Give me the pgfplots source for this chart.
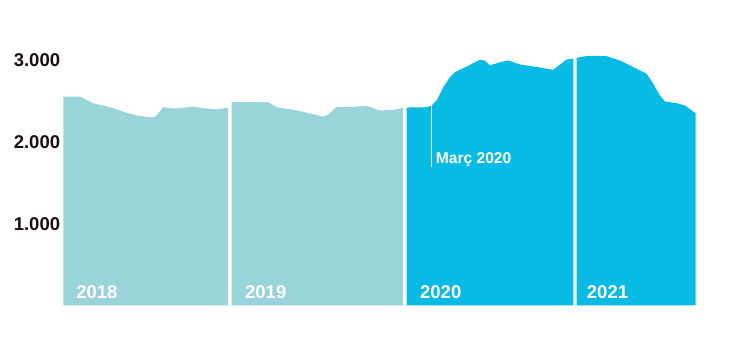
\documentclass[border=0pt]{standalone}
\usepackage{pgfplots}
\pgfplotsset{compat=1.18}
\usepackage{pgfplotstable}
\usepackage{fontspec}
\setmainfont{Liberation Sans}
\definecolor{lightteal}{RGB}{153,212,218}
\definecolor{brightcyan}{RGB}{8,187,228}
\definecolor{labeldark}{RGB}{25,15,15}

\pgfplotstableread{
m v
0 2558
1.18 2558
2.10 2476
3.30 2427
4.47 2359
5.18 2326
6.12 2305
6.47 2307
7.06 2427
7.74 2411
8.24 2415
9.15 2436
9.86 2415
10.85 2399
11.53 2420
11.64 2424
}\yearA
\pgfplotstableread{
m v
11.88 2488
14.47 2488
15.06 2427
16.23 2395
16.70 2378
18.35 2313
18.59 2326
19.29 2427
20.23 2427
21.41 2444
22.35 2387
23.29 2395
23.99 2420
}\yearB
\pgfplotstableread{
m v
24.23 2423
25.65 2427
26.00 2448
26.35 2509
26.82 2672
27.29 2794
27.64 2856
28.47 2925
29.41 3007
29.77 2996
30.11 2938
30.82 2978
31.41 2999
32.23 2950
33.17 2925
34.58 2885
35.05 2950
35.53 3011
35.99 3023
}\yearC
\pgfplotstableread{
m v
36.23 3032
36.80 3050
37.40 3056
38.35 3051
39.29 2999
40.23 2917
41.17 2836
41.64 2714
41.90 2630
42.11 2570
42.46 2497
43.29 2476
43.87 2448
44.35 2387
44.63 2354
}\yearD

\begin{document}
\begin{tikzpicture}
\path[use as bounding box] (0,0) rectangle (729bp,353bp);
\begin{axis}[
  at={(63.3bp,47.5bp)}, anchor=south west,
  scale only axis,
  width=632.4bp, height=261.44bp,
  xmin=0, xmax=44.63,
  ymin=0, ymax=3200,
  clip=false,
  axis line style={draw=none},
  major tick length=0pt,
  xtick=\empty,
  ytick={1000,2000,3000},
  yticklabels={1.000,2.000,3.000},
  yticklabel style={anchor=east, inner sep=0pt, xshift=-3bp,
    font=\fontsize{18.5bp}{20bp}\selectfont\bfseries, text=labeldark},
]
\addplot[fill=lightteal, draw=none] table[x=m,y=v] {\yearA} \closedcycle;
\addplot[fill=lightteal, draw=none] table[x=m,y=v] {\yearB} \closedcycle;
\addplot[fill=brightcyan, draw=none] table[x=m,y=v] {\yearC} \closedcycle;
\addplot[fill=brightcyan, draw=none] table[x=m,y=v] {\yearD} \closedcycle;
\addplot[white, line width=1.3bp] coordinates {(26.0,1690) (26.0,2450)};
\node[anchor=base west, inner sep=0pt, text=white, font=\fontsize{15.6bp}{17bp}\selectfont\bfseries] at (axis cs:26.28,1744) {Març 2020};
\foreach \xx/\yy in {0.9/2018, 12.82/2019, 25.17/2020, 36.94/2021}{
  \edef\tmp{\noexpand\node[anchor=base west, inner sep=0pt, text=white, font=\noexpand\fontsize{18.5bp}{20bp}\noexpand\selectfont\noexpand\bfseries] at (axis cs:\xx,88) {\yy};}
  \tmp
}
\end{axis}
\end{tikzpicture}
\end{document}
